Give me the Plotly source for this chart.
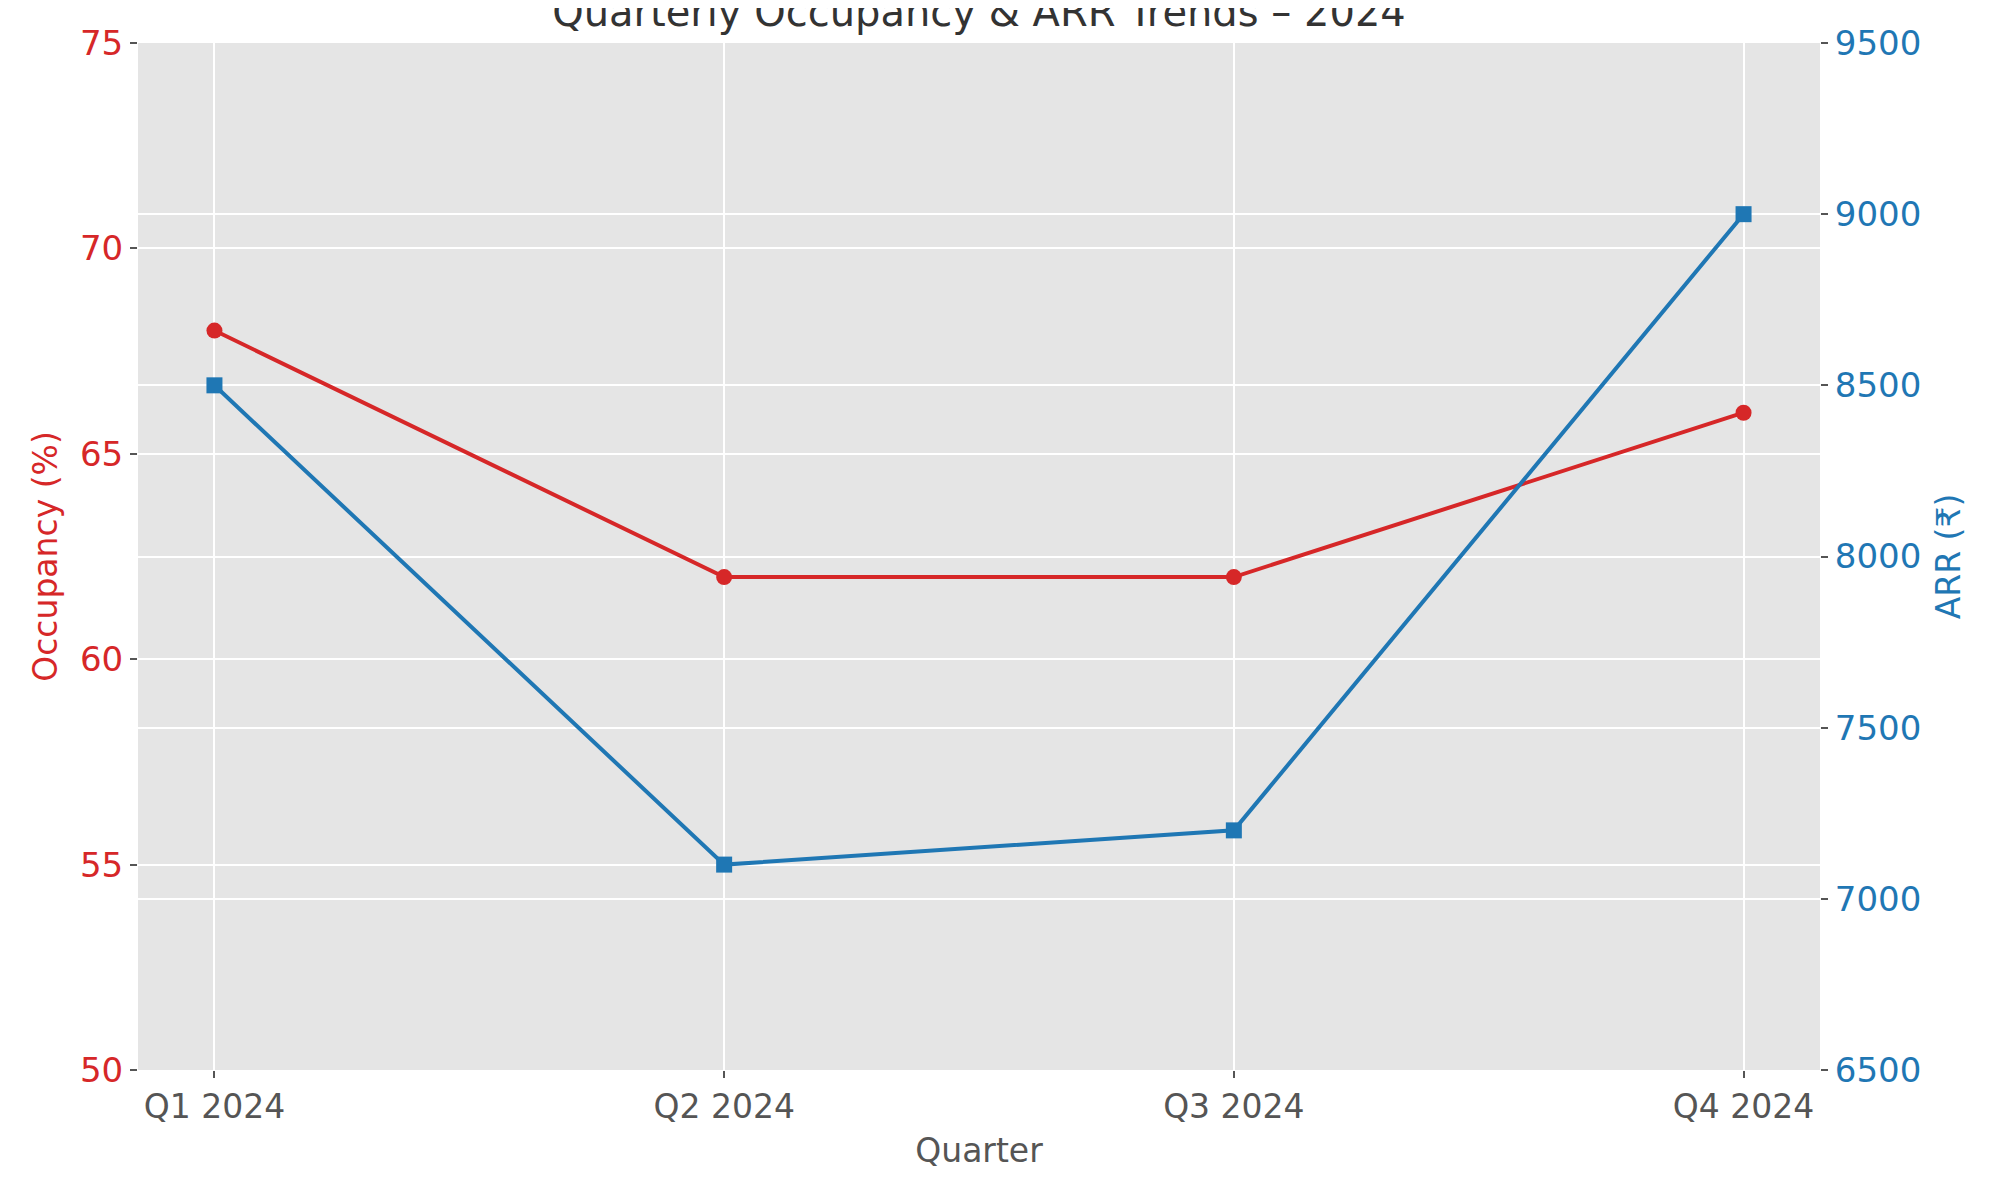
import plotly.graph_objects as go

# quarterly figures
quarters = ["Q1 2024", "Q2 2024", "Q3 2024", "Q4 2024"]
occupancy = [68, 62, 62, 66]
arr_values = [8500, 7100, 7200, 9000]

red = "#d62728"
blue = "#1f77b4"
font_family = "DejaVu Sans, Noto Sans, sans-serif"

fig = go.Figure()

# occupancy on the left axis
fig.add_trace(go.Scatter(
    x=quarters, y=occupancy, name="Occupancy (%)",
    mode="lines+markers",
    line=dict(color=red, width=4),
    marker=dict(symbol="circle", size=16, color=red),
    yaxis="y",
))

# ARR on the right axis
fig.add_trace(go.Scatter(
    x=quarters, y=arr_values, name="ARR (₹)",
    mode="lines+markers",
    line=dict(color=blue, width=4),
    marker=dict(symbol="square", size=16, color=blue),
    yaxis="y2",
))

fig.update_layout(
    width=2000, height=1200,
    margin=dict(l=130, r=188, t=35, b=138),
    paper_bgcolor="white",
    plot_bgcolor="#e5e5e5",
    showlegend=False,
    font=dict(family=font_family, color="#555555", size=34),
    title=dict(
        text="Quarterly Occupancy & ARR Trends – 2024",
        font=dict(size=40, color="#333333"),
        x=0.5, xref="paper", xanchor="center",
        y=0.985, yref="container", yanchor="bottom",
    ),
    xaxis=dict(
        type="category",
        range=[-0.15, 3.15],
        automargin=False,
        showgrid=True, gridcolor="white", gridwidth=2,
        ticks="outside", ticklen=7, tickwidth=2, tickcolor="#555555",
        tickfont=dict(size=33, color="#555555"),
        title=dict(text="Quarter", font=dict(size=33, color="#555555"), standoff=14),
        zeroline=False, showline=False,
    ),
    yaxis=dict(
        range=[50, 75],
        tickvals=[50, 55, 60, 65, 70, 75],
        automargin=False,
        showgrid=True, gridcolor="white", gridwidth=2,
        ticks="outside", ticklen=7, tickwidth=2, tickcolor="#555555",
        tickfont=dict(size=34, color=red),
        title=dict(text="Occupancy (%)", font=dict(size=33, color=red), standoff=12),
        zeroline=False, showline=False,
    ),
    yaxis2=dict(
        range=[6500, 9500],
        tickvals=[6500, 7000, 7500, 8000, 8500, 9000, 9500],
        overlaying="y", side="right",
        automargin=False,
        showgrid=True, gridcolor="white", gridwidth=2,
        ticks="outside", ticklen=7, tickwidth=2, tickcolor="#555555",
        tickfont=dict(size=34, color=blue),
        title=dict(text="ARR (₹)", font=dict(size=33, color=blue), standoff=16),
        zeroline=False, showline=False,
    ),
)

fig.write_html("out.html")
